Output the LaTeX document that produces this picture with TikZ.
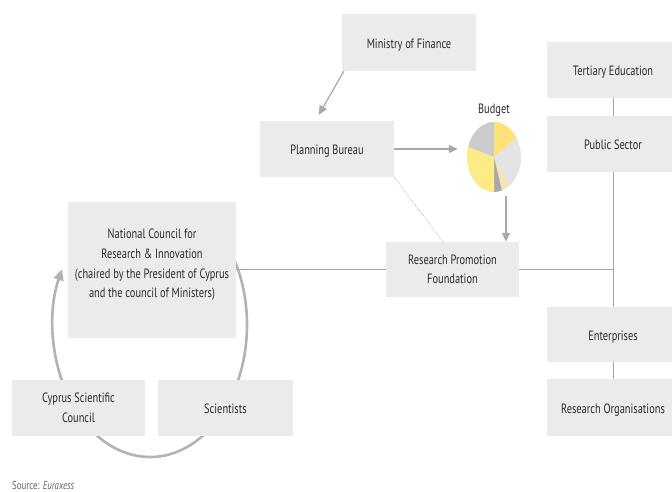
\documentclass[tikz,border=0pt]{standalone}
\usepackage{fontspec}
\setmainfont[FakeStretch=0.77]{PT Sans}
\usetikzlibrary{arrows.meta,shapes.geometric}
\definecolor{boxfill}{HTML}{EBEBEA}
\definecolor{txtcol}{HTML}{2B2B2B}
\definecolor{linecol}{HTML}{A3A3A3}
\definecolor{arrcol}{HTML}{A8A8A8}
\definecolor{loopcol}{HTML}{B3B3B3}
\definecolor{pieyA}{HTML}{FDE27A}
\definecolor{pieyB}{HTML}{FEEB86}
\definecolor{pielg}{HTML}{E4E4E4}
\definecolor{piecr}{HTML}{F6E4B6}
\definecolor{piedg}{HTML}{A9A9A9}
\definecolor{piegr}{HTML}{CBCBCB}
\tikzset{
  lbl/.style={font=\fontsize{13.5}{19.5}\selectfont, text=txtcol},
  box/.style={lbl, fill=boxfill, draw=none, inner sep=0pt, align=center},
  onebox/.style={box, text height=11.6pt, text depth=0pt},
  arr/.style={draw=arrcol, line width=1.2pt, -{Triangle[length=9pt,width=8pt]}},
  conn/.style={draw=linecol, line width=1pt},
  loop/.style={draw=loopcol, line width=2.6pt, -{Triangle[length=11pt,width=10pt]}},
}
\begin{document}
\begin{tikzpicture}[x=1pt,y=-1pt]
\useasboundingbox (0,0) rectangle (672,492);
\fill[white] (0,0) rectangle (672,492);

% loop behind the boxes
\coordinate (lc) at (150,325);
\draw[loop] (lc) ++(40:97pt and 132pt) arc[start angle=40, end angle=-205, x radius=97pt, y radius=132pt];

% boxes
\node[onebox, minimum width=134pt, minimum height=57pt] (mof) at (409,42.5) {Ministry of Finance};
\node[onebox, minimum width=134pt, minimum height=56pt] (pb) at (327,149) {Planning Bureau};
\node[box, minimum width=133pt, minimum height=55pt] (rpf) at (452.5,269.5) {Research Promotion\\Foundation};
\node[box, minimum width=168pt, minimum height=136pt] (ncri) at (152,270) {};
\node[lbl, align=center, font=\fontsize{13.5}{19.7}\selectfont] (ncrit) at (152,265) {National Council for\\Research \& Innovation\\(chaired by the President of Cyprus\\and the council of Ministers)};
\node[box, minimum width=133pt, minimum height=56pt] (csc) at (78.5,408) {Cyprus Scientific\\Council};
\node[onebox, minimum width=135pt, minimum height=56pt] (sci) at (225.5,408) {Scientists};
\node[onebox, minimum width=132pt, minimum height=56pt] (te) at (613,70) {Tertiary Education};
\node[onebox, minimum width=132pt, minimum height=56pt] (ps) at (613,144) {Public Sector};
\node[onebox, minimum width=132pt, minimum height=55pt] (ent) at (613,334.5) {Enterprises};
\node[onebox, minimum width=132pt, minimum height=57pt] (ro) at (613,407.5) {Research Organisations};

% budget pie
\node[lbl] (budget) at (494,110) {Budget};
\node[ellipse, minimum width=54pt, minimum height=70pt, inner sep=0pt] (pie) at (494,157) {};
\foreach \a/\b/\c in {90/33/pieyA, 33/-56/pielg, -56/-73/piecr, -73/-90/piedg, -90/-197/pieyB, -197/-270/piegr}{
  \fill[\c] (pie.center) -- ++(\a:27pt and 35pt) arc[start angle=\a, end angle=\b, x radius=27pt, y radius=35pt] -- cycle;
}

% connectors
\draw[arr] ([xshift=2pt]mof.south west) -- ([xshift=59pt,yshift=6pt]pb.north west);
\draw[arr, shorten >=9pt] (pb.east) -- (pb.east -| pie.west);
\coordinate (bpt) at (506,196);
\draw[arr] (bpt) -- (bpt |- rpf.north);
\draw[draw=linecol, densely dotted, line width=0.6pt] (pb.south east) -- ([xshift=-9.5pt]rpf.north);
\draw[conn] (rpf.west -| ncri.east) -- (rpf.west);
\draw[conn] (rpf.east) -- (rpf.east -| ps.south);
\draw[conn] (te.south) -- (ps.north);
\draw[conn] (ps.south) -- (ent.north);
\draw[conn] (ent.south) -- (ro.north);

% source
\node[anchor=north west, inner sep=0pt, font=\fontsize{11.5}{13}\selectfont, text=black!60] (src) at (12,481) {Source: \textit{Euraxess}};
\end{tikzpicture}
\end{document}
